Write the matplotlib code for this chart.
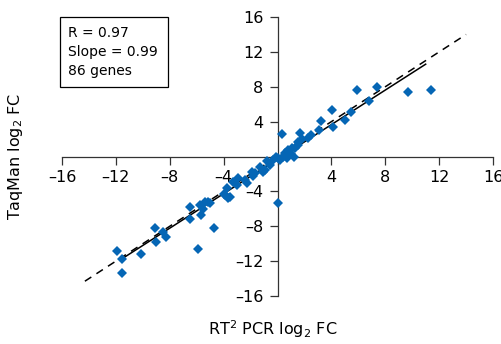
import numpy as np
import matplotlib.pyplot as plt
from matplotlib.patches import Rectangle

plt.rcParams["font.family"] = ["DejaVu Sans"]

# ---------- data ----------
rt2_fc = [0.3, 1.67, 1.8, 2.46, 3.1, 3.23, 4.02, 4.1, 4.99, 5.46, 5.9, 6.79, 7.36, 9.66, 11.42,
          2.29, 1.55, 1.3, 0.8, 0.56, 0.43, 0.06, 1.2, 1.0, -0.31, -0.8, -1.3, -0.93, -0.56,
          -0.1, 0.01, -1.05, -1.67, -1.92, -2.41, -2.91, -3.03, -3.77, -3.9, -3.53, -2.29,
          -1.8, -3.28, -4.0, -3.65, 0.88, 1.05, 0.19, 0.56, 0.68, 1.55,
          -5.14, -5.0, -5.38, -5.55, -5.7, -5.75, -5.88, -6.5, -6.5, -4.71, -8.28, -8.48,
          -9.02, -9.09, -10.16, -11.52, -11.57, -11.89]
taqman_fc = [2.6, 2.7, 2.0, 2.49, 3.07, 4.1, 5.36, 3.37, 4.2, 5.05, 7.58, 6.4, 7.97, 7.35, 7.62,
             2.1, 1.72, 0.96, 0.77, 0.38, 0.0, -0.19, -0.1, 0.3, -0.38, -0.57, -1.15, -1.53, -0.95,
             -0.07, -5.35, -1.72, -1.9, -1.72, -2.67, -2.48, -3.25, -3.63, -4.4, -4.59, -3.06,
             -2.2, -2.87, -4.28, -4.78, 0.57, 0.96, -0.38, 0.2, -0.19, 1.34,
             -5.16, -5.35, -5.16, -6.0, -6.7, -5.55, -10.6, -5.81, -7.15, -8.23, -9.26, -8.61,
             -9.76, -8.15, -11.17, -13.39, -11.78, -10.79]

fit_slope = 0.99
fit_intercept = -0.3
fit_x_range = [-11.7, 11.0]
identity_range = [-14.3, 14.0]

stats_lines = ["R = 0.97", "Slope = 0.99", "86 genes"]
ticks = [-16, -12, -8, -4, 0, 4, 8, 12, 16]

# ---------- figure ----------
fig = plt.figure(figsize=(5.02, 3.44), dpi=100)
ax = fig.add_axes([0.1235, 0.1395, 0.8586, 0.811])

blue = "#0566b5"
ax.plot(rt2_fc, taqman_fc, ls="none", marker="D", ms=5.2, color=blue,
        markeredgewidth=0, zorder=3)

fx = np.array(fit_x_range)
ax.plot(fx, fit_slope * fx + fit_intercept, color="black", lw=1.1, zorder=2)
ix = np.array(identity_range)
ax.plot(ix, ix, color="black", lw=1.1, ls=(0, (5, 4)), zorder=2)

ax.set_xlim(-16, 16)
ax.set_ylim(-16, 16)
ax.spines["left"].set_position(("data", 0))
ax.spines["bottom"].set_position(("data", 0))
ax.spines["top"].set_visible(False)
ax.spines["right"].set_visible(False)
for s in ("left", "bottom"):
    ax.spines[s].set_color("#333333")
    ax.spines[s].set_linewidth(0.9)

lbls = ["" if t == 0 else f"\u2013{abs(t)}" if t < 0 else str(t) for t in ticks]
ax.set_xticks(ticks)
ax.set_xticklabels(lbls)
ax.set_yticks(ticks)
ax.set_yticklabels(lbls)
ax.tick_params(direction="out", length=6, width=0.9, color="#333333",
               labelsize=11.5, pad=4)

ax.set_xlabel("RT$^2$ PCR log$_2$ FC", fontsize=11.5, va="center")
ax.xaxis.set_label_coords(0.49, -0.12)
ax.set_ylabel("TaqMan log$_2$ FC", fontsize=11.5, va="center")
ax.yaxis.set_label_coords(-0.109, 0.5)

# stats box
fig.add_artist(Rectangle((0.1195, 0.747), 0.215, 0.2035, transform=fig.transFigure,
                         facecolor="white", edgecolor="black", lw=0.9))
for i, line in enumerate(stats_lines):
    fig.text(0.1355, 0.904 - i * 0.0555, line, fontsize=10, va="center", ha="left")

fig.savefig("out.png", dpi=100)
